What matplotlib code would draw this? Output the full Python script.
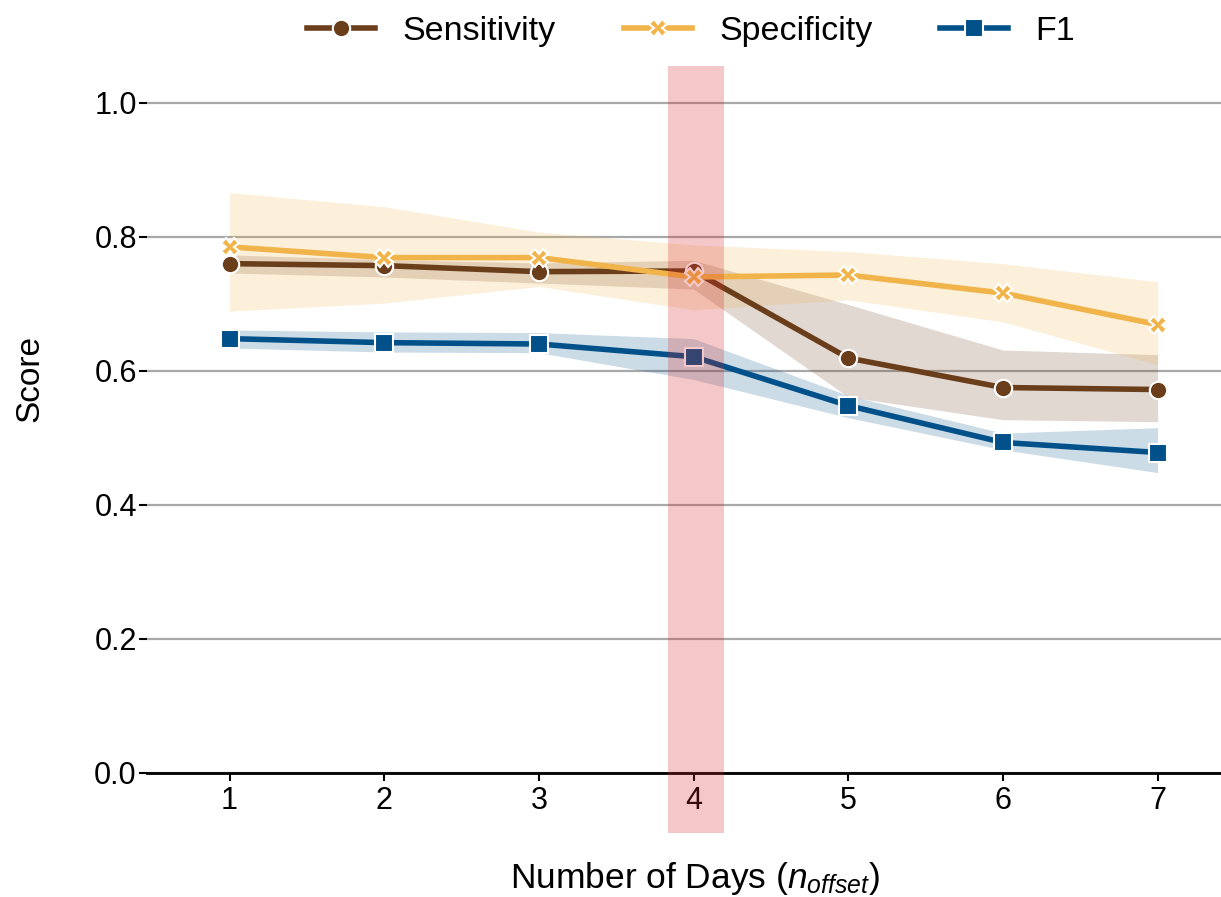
import matplotlib
matplotlib.use("Agg")
import matplotlib.pyplot as plt

plt.rcParams['font.family'] = ['Liberation Sans', 'DejaVu Sans']
plt.rcParams['mathtext.fontset'] = 'custom'
plt.rcParams['mathtext.rm'] = 'Liberation Sans'
plt.rcParams['mathtext.it'] = 'Liberation Sans:italic'

# data
days = [1, 2, 3, 4, 5, 6, 7]
sens = [0.760, 0.757, 0.748, 0.749, 0.619, 0.575, 0.572]
sens_lo = [0.746, 0.740, 0.731, 0.722, 0.561, 0.527, 0.524]
sens_hi = [0.773, 0.766, 0.761, 0.765, 0.699, 0.631, 0.624]
spec = [0.785, 0.769, 0.769, 0.740, 0.743, 0.716, 0.669]
spec_lo = [0.689, 0.701, 0.726, 0.691, 0.706, 0.673, 0.609]
spec_hi = [0.866, 0.845, 0.807, 0.788, 0.778, 0.760, 0.733]
f1 = [0.648, 0.642, 0.640, 0.621, 0.548, 0.493, 0.478]
f1_lo = [0.634, 0.628, 0.627, 0.587, 0.530, 0.482, 0.448]
f1_hi = [0.661, 0.658, 0.657, 0.648, 0.563, 0.507, 0.515]
yticks = [0.0, 0.2, 0.4, 0.6, 0.8, 1.0]

c_sens = '#6b3e1b'
c_spec = '#f0b44a'
c_f1 = '#00508a'

fig = plt.figure(figsize=(12.21, 8.97), dpi=100)
ax = fig.add_axes([0.120, 0.0714, 0.880, 0.855])

series = [
    ('Sensitivity', sens, sens_lo, sens_hi, c_sens, 'o'),
    ('Specificity', spec, spec_lo, spec_hi, c_spec, 'X'),
    ('F1', f1, f1_lo, f1_hi, c_f1, 's'),
]
for name, y, lo, hi, c, m in series:
    ax.fill_between(days, lo, hi, color=c, alpha=0.2, linewidth=0, zorder=2)
for name, y, lo, hi, c, m in series:
    ax.plot(days, y, color=c, lw=4, marker=m, markersize=12.5,
            markeredgecolor='white', markeredgewidth=1.5, label=name, zorder=3)

# highlighted offset
ax.axvspan(3.832, 4.194, ymin=0, ymax=1, color='#d62728', alpha=0.25,
           linewidth=0, zorder=5)

ax.set_xlim(0.463, 7.41)
ax.set_ylim(-0.09, 1.055)
ax.set_yticks(yticks)
ax.set_yticklabels(['%.1f' % v for v in yticks])
ax.set_xticks(days)
ax.grid(axis='y', color='#a8a8a8', lw=1.6, zorder=1)
ax.set_axisbelow(True)

for s in ['top', 'right', 'left']:
    ax.spines[s].set_visible(False)
ax.spines['bottom'].set_position(('data', 0))
ax.spines['bottom'].set_linewidth(2)
ax.tick_params(axis='both', labelsize=22, width=1.5, length=6)
ax.tick_params(axis='y', pad=1)

ax.set_ylabel('Score', fontsize=24)
ax.yaxis.set_label_coords(-0.094, 0.593)
ax.set_xlabel('Number of Days ($n_{offset}$)', fontsize=25.5)
ax.xaxis.set_label_coords(0.51, -0.035)

ax.legend(loc='lower center', bbox_to_anchor=(0.507, 0.985), ncol=3,
          frameon=False, fontsize=24.5, handlelength=2.0, handletextpad=0.8,
          columnspacing=2.0)

fig.savefig('out.png', dpi=100)
